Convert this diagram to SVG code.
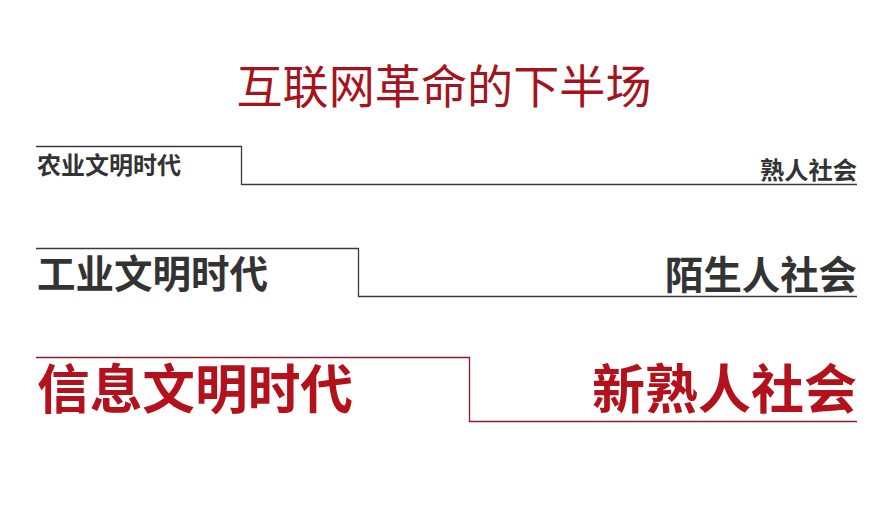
<svg xmlns="http://www.w3.org/2000/svg" width="890" height="510" viewBox="0 0 890 510">
<style>
.t{font-family:"Noto Sans CJK SC","Noto Sans CJK JP",sans-serif;}
.b{font-weight:bold;}
.g{fill:#333333;}
.r{fill:#b3121c;}
.lg{fill:none;stroke:#3a3a3a;stroke-width:1.3;}
.lr{fill:none;stroke:#8c1a26;stroke-width:1.3;}
</style>
<rect width="890" height="510" fill="#ffffff"/>
<g id="title"><text class="t" x="444" y="103" font-size="46" text-anchor="middle" fill="#a5141c" textLength="415" lengthAdjust="spacingAndGlyphs">互联网革命的下半场</text></g>
<g id="connectors">
<path class="lg" d="M36,146.5 H241.5 V184.5 H857"/>
<path class="lg" d="M36,248.5 H358.5 V296.5 H857"/>
<path class="lr" d="M36,357.5 H469.5 V421.5 H857"/>
</g>
<g id="row1">
<text class="t b g" x="37" y="174" font-size="24" textLength="144" lengthAdjust="spacingAndGlyphs">农业文明时代</text>
<text class="t b g" x="857" y="179" font-size="24" text-anchor="end" textLength="97" lengthAdjust="spacingAndGlyphs">熟人社会</text>
</g>
<g id="row2">
<text class="t b g" x="37" y="288" font-size="38.5" textLength="231" lengthAdjust="spacingAndGlyphs">工业文明时代</text>
<text class="t b g" x="857" y="289" font-size="38.5" text-anchor="end" textLength="192" lengthAdjust="spacingAndGlyphs">陌生人社会</text>
</g>
<g id="row3">
<text class="t b r" x="37" y="409" font-size="53" textLength="316" lengthAdjust="spacingAndGlyphs">信息文明时代</text>
<text class="t b r" x="857" y="409" font-size="53" text-anchor="end" textLength="265" lengthAdjust="spacingAndGlyphs">新熟人社会</text>
</g>
</svg>
